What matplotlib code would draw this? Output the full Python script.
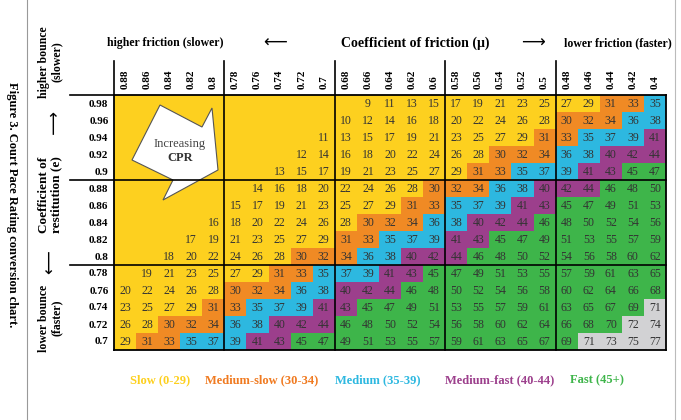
import matplotlib.pyplot as plt
import numpy as np
from matplotlib.colors import ListedColormap, BoundaryNorm
from matplotlib.patches import Polygon

plt.rcParams['font.family'] = ['Liberation Serif', 'DejaVu Serif']

friction = ['0.88', '0.86', '0.84', '0.82', '0.8', '0.78', '0.76', '0.74', '0.72', '0.7',
            '0.68', '0.66', '0.64', '0.62', '0.6', '0.58', '0.56', '0.54', '0.52', '0.5',
            '0.48', '0.46', '0.44', '0.42', '0.4']
restitution = ['0.98', '0.96', '0.94', '0.92', '0.9', '0.88', '0.86', '0.84', '0.82', '0.8',
               '0.78', '0.76', '0.74', '0.72', '0.7']

N = None
cpr = [
    [N, N, N, N, N, N, N, N, N, N, N, 9, 11, 13, 15, 17, 19, 21, 23, 25, 27, 29, 31, 33, 35],
    [N, N, N, N, N, N, N, N, N, N, 10, 12, 14, 16, 18, 20, 22, 24, 26, 28, 30, 32, 34, 36, 38],
    [N, N, N, N, N, N, N, N, N, 11, 13, 15, 17, 19, 21, 23, 25, 27, 29, 31, 33, 35, 37, 39, 41],
    [N, N, N, N, N, N, N, N, 12, 14, 16, 18, 20, 22, 24, 26, 28, 30, 32, 34, 36, 38, 40, 42, 44],
    [N, N, N, N, N, N, N, 13, 15, 17, 19, 21, 23, 25, 27, 29, 31, 33, 35, 37, 39, 41, 43, 45, 47],
    [N, N, N, N, N, N, 14, 16, 18, 20, 22, 24, 26, 28, 30, 32, 34, 36, 38, 40, 42, 44, 46, 48, 50],
    [N, N, N, N, N, 15, 17, 19, 21, 23, 25, 27, 29, 31, 33, 35, 37, 39, 41, 43, 45, 47, 49, 51, 53],
    [N, N, N, N, 16, 18, 20, 22, 24, 26, 28, 30, 32, 34, 36, 38, 40, 42, 44, 46, 48, 50, 52, 54, 56],
    [N, N, N, 17, 19, 21, 23, 25, 27, 29, 31, 33, 35, 37, 39, 41, 43, 45, 47, 49, 51, 53, 55, 57, 59],
    [N, N, 18, 20, 22, 24, 26, 28, 30, 32, 34, 36, 38, 40, 42, 44, 46, 48, 50, 52, 54, 56, 58, 60, 62],
    [N, 19, 21, 23, 25, 27, 29, 31, 33, 35, 37, 39, 41, 43, 45, 47, 49, 51, 53, 55, 57, 59, 61, 63, 65],
    [20, 22, 24, 26, 28, 30, 32, 34, 36, 38, 40, 42, 44, 46, 48, 50, 52, 54, 56, 58, 60, 62, 64, 66, 68],
    [23, 25, 27, 29, 31, 33, 35, 37, 39, 41, 43, 45, 47, 49, 51, 53, 55, 57, 59, 61, 63, 65, 67, 69, 71],
    [26, 28, 30, 32, 34, 36, 38, 40, 42, 44, 46, 48, 50, 52, 54, 56, 58, 60, 62, 64, 66, 68, 70, 72, 74],
    [29, 31, 33, 35, 37, 39, 41, 43, 45, 47, 49, 51, 53, 55, 57, 59, 61, 63, 65, 67, 69, 71, 73, 75, 77],
]

band_edges = [0, 30, 35, 40, 45, 71, 100]
band_colors = ['#FDD01F', '#F08A24', '#2DB8E0', '#9C3F8C', '#3EB54A', '#D2D2D4']
legend_labels = ['Slow (0-29)', 'Medium-slow (30-34)', 'Medium (35-39)',
                 'Medium-fast (40-44)', 'Fast (45+)']
legend_text_colors = ['#FDD01F', '#F07A20', '#2DB8E0', '#9C3F8C', '#3EB54A']

W, H = 681, 420
fig = plt.figure(figsize=(W / 100, H / 100), dpi=100)

# main grid axes
gl, gr, gt, gb = 114, 666, 94.5, 349.5
ax = fig.add_axes([gl / W, 1 - gb / H, (gr - gl) / W, (gb - gt) / H])
vals = np.array([[0 if v is None else v for v in row] for row in cpr], dtype=float)
cmap = ListedColormap(band_colors)
norm = BoundaryNorm(band_edges, cmap.N)
nr, nc = vals.shape
ax.pcolormesh(np.arange(nc + 1), np.arange(nr + 1), vals, cmap=cmap, norm=norm)
ax.set_xlim(0, nc)
ax.set_ylim(nr, 0)
for r in range(nr):
    for c in range(nc):
        v = cpr[r][c]
        if v is not None:
            ax.text(c + 0.5, r + 0.55, str(v), ha='center', va='center',
                    fontsize=8.5, color='#333333')

ax.xaxis.tick_top()
ax.set_xticks(np.arange(nc) + 0.5)
ax.set_xticklabels(friction, rotation=90, fontsize=8, fontweight='bold')
ax.set_yticks(np.arange(nr) + 0.5)
ax.set_yticklabels(restitution, fontsize=8, fontweight='bold')
ax.tick_params(length=0, pad=4)
for s in ax.spines.values():
    s.set_linewidth(1.3)

for c in [5, 10, 15, 20]:
    ax.plot([c, c], [nr, -2.0], color='black', lw=1.2, clip_on=False)
ax.plot([0, 0], [0, -2.0], color='black', lw=1.2, clip_on=False)
for r in [5, 10]:
    ax.plot([-2.0, nc], [r, r], color='black', lw=1.2, clip_on=False)
ax.plot([-2.0, 0], [0, 0], color='black', lw=1.2, clip_on=False)

# arrow, in cell units (traced in pixels)
arrow_px = [(160, 105), (202, 127), (212, 108), (218, 170), (163, 200), (173, 180), (132, 160)]
cw, ch = (gr - gl) / nc, (gb - gt) / nr
arrow = [((x - gl) / cw, (y - gt) / ch) for x, y in arrow_px]
ax.add_patch(Polygon(arrow, closed=True, facecolor='white', edgecolor='#555555', lw=0.8))
ax.text((180 - gl) / cw, (144 - gt) / ch, 'Increasing', ha='center', va='center',
        fontsize=9, color='#444444')
ax.text((180 - gl) / cw, (158 - gt) / ch, 'CPR', ha='center', va='center',
        fontsize=9, fontweight='bold', color='#333333')

# headers
fig.text(165 / W, 1 - 43 / H, 'higher friction (slower)', ha='center', va='center',
         fontsize=8.5, fontweight='bold')
fig.text(415 / W, 1 - 43 / H, 'Coefficient of friction (\u03bc)', ha='center', va='center',
         fontsize=10, fontweight='bold')
fig.text(618 / W, 1 - 43 / H, 'lower friction (faster)', ha='center', va='center',
         fontsize=8.5, fontweight='bold')
fig.text(275 / W, 1 - 43 / H, '\u27f5', ha='center', va='center', fontsize=12,
         family=['DejaVu Sans'])
fig.text(533 / W, 1 - 43 / H, '\u27f6', ha='center', va='center', fontsize=12,
         family=['DejaVu Sans'])

fig.text(50 / W, 1 - 62 / H, 'higher bounce\n(slower)', ha='center', va='center',
         rotation=90, fontsize=8.5, fontweight='bold', linespacing=1.1)
fig.text(50 / W, 1 - 123 / H, '\u27f5', ha='center', va='center', rotation=-90,
         fontsize=12, family=['DejaVu Sans'])
fig.text(50 / W, 1 - 195 / H, 'Coefficient of\nrestitution (e)', ha='center', va='center',
         rotation=90, fontsize=9.5, fontweight='bold', linespacing=1.1)
fig.text(50 / W, 1 - 262 / H, '\u27f5', ha='center', va='center', rotation=90,
         fontsize=12, family=['DejaVu Sans'])
fig.text(50 / W, 1 - 318 / H, 'lower bounce\n(faster)', ha='center', va='center',
         rotation=90, fontsize=8.5, fontweight='bold', linespacing=1.1)

fig.text(12 / W, 1 - 205 / H, 'Figure 3. Court Pace Rating conversion chart.', ha='center',
         va='center', rotation=-90, fontsize=9, fontweight='bold')

# legend
leg_x = [160, 262, 378, 500, 597]
for x, lab, col in zip(leg_x, legend_labels, legend_text_colors):
    fig.text(x / W, 1 - 380 / H, lab, ha='center', va='center', fontsize=9,
             fontweight='bold', color=col)

fig.add_artist(plt.Line2D([27 / W, 27 / W], [0, 1], color='#999999', lw=0.8))
fig.add_artist(plt.Line2D([675 / W, 675 / W], [0, 1], color='#bbbbbb', lw=0.8))

fig.savefig('out.png', dpi=100)
